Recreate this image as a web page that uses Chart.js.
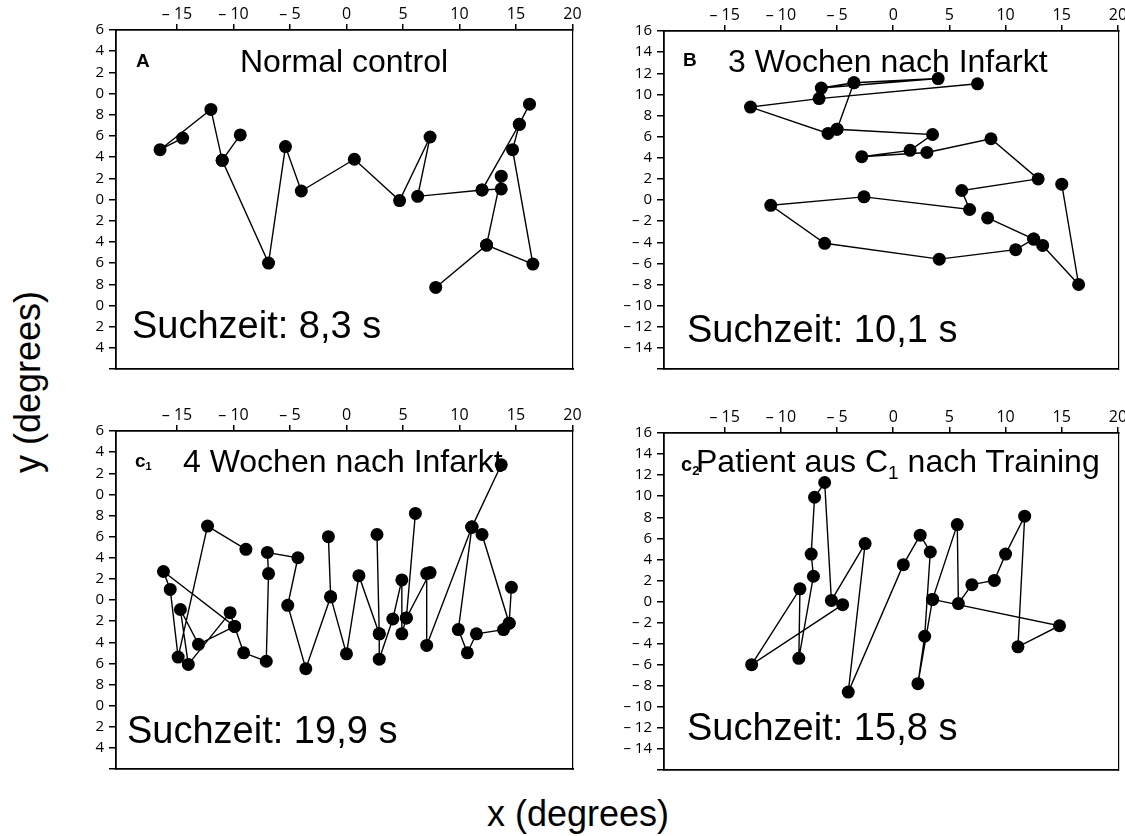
<!DOCTYPE html>
<html>
<head>
<meta charset="utf-8">
<title>Suchzeit</title>
<script src="https://cdn.jsdelivr.net/npm/chart.js@4.4.1/dist/chart.umd.min.js"></script>
<style>
  body { margin: 0; background: #fff; }
  #fig { position: relative; width: 1125px; height: 836px; overflow: hidden; background: #fff;
         font-family: 'Liberation Sans', Arial, sans-serif; color: #000; }
  #fig canvas { position: absolute; }
  .t { position: absolute; line-height: 1; white-space: nowrap; }
  .title { font-size: 32px; }
  .zeit { font-size: 38px; }
  .tag { font-size: 19px; font-weight: bold; }
  .ax { font-size: 36px; }
</style>
</head>
<body>
<div id="fig">
  <canvas id="panelA" width="540" height="380" style="left:56px;top:0px"></canvas>
  <canvas id="panelB" width="521" height="380" style="left:604px;top:0px"></canvas>
  <canvas id="panelC1" width="540" height="380" style="left:56px;top:400px"></canvas>
  <canvas id="panelC2" width="521" height="380" style="left:604px;top:400px"></canvas>

  <div class="t tag" style="left:136px;top:51px">A</div>
  <div class="t title" style="left:240px;top:44.6px">Normal control</div>
  <div class="t zeit" style="left:132px;top:305.5px">Suchzeit: 8,3 s</div>

  <div class="t tag" style="left:683px;top:50px">B</div>
  <div class="t title" style="left:728px;top:44.6px">3 Wochen nach Infarkt</div>
  <div class="t zeit" style="left:687px;top:309.5px">Suchzeit: 10,1 s</div>

  <div class="t tag" style="left:135px;top:450.6px">c<span style="font-size:11px;position:relative;top:3px">1</span></div>
  <div class="t title" style="left:183px;top:444.6px">4 Wochen nach Infarkt</div>
  <div class="t zeit" style="left:127px;top:710.5px">Suchzeit: 19,9 s</div>

  <div class="t tag" style="left:681px;top:454px;font-size:20px">c<span style="font-size:13px;position:relative;top:4px">2</span></div>
  <div class="t title" style="left:696px;top:444.6px">Patient aus C<span style="font-size:19px;position:relative;top:7px">1</span> nach Training</div>
  <div class="t zeit" style="left:687px;top:707.8px">Suchzeit: 15,8 s</div>

  <div class="t ax" style="left:487px;top:796px">x (degrees)</div>
  <div class="t ax" style="left:28px;top:382px;transform:translate(-50%,-50%) rotate(-90deg)">y (degrees)</div>
</div>

<script>
// Achsen
const xMin = -20.4, xMax = 20.05;
const yMin = -16, yMax = 16;
const xTickValues = [-15, -10, -5, 0, 5, 10, 15, 20];
const xTickLabels = ['– 15', '– 10', '– 5', '0', '5', '10', '15', '20'];
const yTickValues = [-16, -14, -12, -10, -8, -6, -4, -2, 0, 2, 4, 6, 8, 10, 12, 14, 16];
// in A und C1 sind die Beschriftungen links abgeschnitten
const yTickLabelsCut = ['', '4', '2', '0', '8', '6', '4', '2', '0', '2', '4', '6', '8', '0', '2', '4', '6'];
const yTickLabelsFull = ['', '– 14', '– 12', '– 10', '– 8', '– 6', '– 4', '– 2', '0', '2', '4', '6', '8', '10', '12', '14', '16'];

// A: Normal control (Blickpfad in Reihenfolge)
const aX = [-14.5, -16.5, -12.0, -11.0, -9.4, -11.0, -6.9, -5.4, -4.0, 0.7, 4.7, 7.4, 6.3, 12.0,
            15.3, 16.2, 15.3, 14.7, 16.5, 12.4, 7.9, 12.4, 13.7, 13.7, 12.0];
const aY = [5.8, 4.7, 8.5, 3.7, 6.1, 3.7, -6.0, 5.0, 0.8, 3.8, -0.1, 5.9, 0.3, 0.9,
            7.1, 9.0, 7.1, 4.7, -6.1, -4.3, -8.3, -4.3, 2.2, 1.0, 0.9];

// B: 3 Wochen nach Infarkt
const bX = [7.5, -6.6, -12.7, -5.8, -5.0, -3.5, -6.4, 4.0, -3.5, -5.0, 3.5, 1.5, -2.8, 3.0,
            8.7, 12.9, 6.1, 6.8, -2.6, -10.9, -6.1, 4.1, 10.9, 12.5, 8.4, 12.5, 13.3, 16.5, 15.0];
const bY = [11.0, 9.6, 8.8, 6.3, 6.7, 11.1, 10.6, 11.5, 11.1, 6.7, 6.2, 4.7, 4.1, 4.5,
            5.8, 2.0, 0.9, -0.9, 0.3, -0.5, -4.1, -5.6, -4.7, -3.7, -1.7, -3.7, -4.3, -8.0, 1.5];

// C1: 4 Wochen nach Infarkt
const c1X = [-8.9, -12.3, -14.9, -15.6, -16.2, -9.9, -13.1, -14.7, -14.0, -10.3, -9.9, -9.1, -7.1,
             -6.9, -7.0, -4.3, -5.2, -3.6, -1.4, -1.6, -1.4, 0.0, 1.1, 2.9, 2.7, 2.9, 2.9, 4.1,
             4.9, 4.9, 5.3, 6.1, 5.3, 7.4, 7.1, 7.1, 11.1, 13.7, 11.1, 12.0, 14.4, 14.6, 14.4,
             13.9, 11.5, 10.7, 9.9, 11.1];
const c1Y = [4.8, 7.0, -5.4, 1.0, 2.7, -2.5, -4.2, -0.9, -6.1, -1.2, -2.5, -5.0, -5.8,
             2.5, 4.5, 4.0, -0.5, -6.5, 0.3, 6.0, 0.3, -5.1, 2.3, -3.2, 6.2, -3.2, -5.6, -1.8,
             1.9, -3.2, -1.7, 8.2, -1.7, 2.6, 2.5, -4.3, 6.9, 12.8, 6.9, 6.2, -2.2, 1.2, -2.2,
             -2.8, -3.2, -5.0, -2.8, 6.9];

// C2: Patient aus C1 nach Training
const c2X = [-4.5, -12.6, -8.3, -8.4, -7.1, -7.3, -7.0, -6.1, -5.5, -2.5, -4.0, 0.9, 2.4,
             3.3, 2.8, 2.2, 3.5, 5.7, 5.8, 7.0, 9.0, 10.0, 11.7, 11.1, 14.8, 3.5];
const c2Y = [-0.3, -6.0, 1.2, -5.4, 2.4, 4.5, 9.9, 11.3, 0.1, 5.5, -8.6, 3.5, 6.3,
             4.7, -3.3, -7.8, 0.2, 7.3, -0.2, 1.6, 2.0, 4.5, 8.1, -4.3, -2.3, 0.2];

const tickFont = { family: "'Open Sans', 'DejaVu Sans', sans-serif", size: 16 };

function makePanel(canvasId, xs, ys, yLabels, geo) {
  const points = xs.map((x, i) => ({ x: x, y: ys[i] }));
  return new Chart(document.getElementById(canvasId), {
    type: 'scatter',
    data: {
      datasets: [{
        data: points,
        showLine: true,
        borderColor: '#000',
        borderWidth: 1.4,
        pointRadius: 6.5,
        pointHoverRadius: 6.5,
        pointBackgroundColor: '#000',
        pointBorderWidth: 0
      }]
    },
    options: {
      responsive: false,
      animation: false,
      devicePixelRatio: 1,
      events: [],
      layout: { padding: { left: 0, top: 0, right: geo.right, bottom: geo.bottom } },
      plugins: { legend: { display: false }, tooltip: { enabled: false } },
      scales: {
        x: {
          type: 'linear', position: 'top', min: xMin, max: xMax,
          afterBuildTicks: s => { s.ticks = xTickValues.map(v => ({ value: v })); },
          afterFit: s => { s.height = geo.top; s.paddingLeft = 0; s.paddingRight = 0; },
          ticks: { callback: (v, i) => xTickLabels[i], font: tickFont, color: '#000',
                   padding: 0, maxRotation: 0, minRotation: 0, autoSkip: false },
          grid: { display: true, drawOnChartArea: false, drawTicks: true, tickLength: 6,
                  color: '#000', lineWidth: 1.5 },
          border: { display: true, color: '#000', width: 1.8 }
        },
        y: {
          type: 'linear', position: 'left', min: yMin, max: yMax,
          afterBuildTicks: s => { s.ticks = yTickValues.map(v => ({ value: v })); },
          afterFit: s => { s.width = 60; s.paddingTop = 0; s.paddingBottom = 0; },
          ticks: { callback: (v, i) => yLabels[i], font: { ...tickFont, size: 15 }, color: '#000',
                   padding: 5, autoSkip: false },
          grid: { display: true, drawOnChartArea: false, drawTicks: true, tickLength: 7,
                  color: '#000', lineWidth: 1.5 },
          border: { display: true, color: '#000', width: 1.8 }
        },
        x2: {
          type: 'linear', axis: 'x', position: 'bottom', min: xMin, max: xMax,
          afterFit: s => { s.height = 0; s.paddingLeft = 0; s.paddingRight = 0; },
          ticks: { display: false },
          grid: { display: false },
          border: { display: true, color: '#000', width: 1.8 }
        },
        y2: {
          type: 'linear', axis: 'y', position: 'right', min: yMin, max: yMax,
          afterFit: s => { s.width = 0; s.paddingTop = 0; s.paddingBottom = 0; },
          ticks: { display: false },
          grid: { display: false },
          border: { display: true, color: '#000', width: 1.2 }
        }
      }
    }
  });
}

makePanel('panelA', aX, aY, yTickLabelsCut, { top: 30, right: 23, bottom: 11 });
makePanel('panelB', bX, bY, yTickLabelsFull, { top: 31, right: 2, bottom: 11 });
makePanel('panelC1', c1X, c1Y, yTickLabelsCut, { top: 31, right: 23, bottom: 11 });
makePanel('panelC2', c2X, c2Y, yTickLabelsFull, { top: 33, right: 2, bottom: 10 });
</script>
</body>
</html>
